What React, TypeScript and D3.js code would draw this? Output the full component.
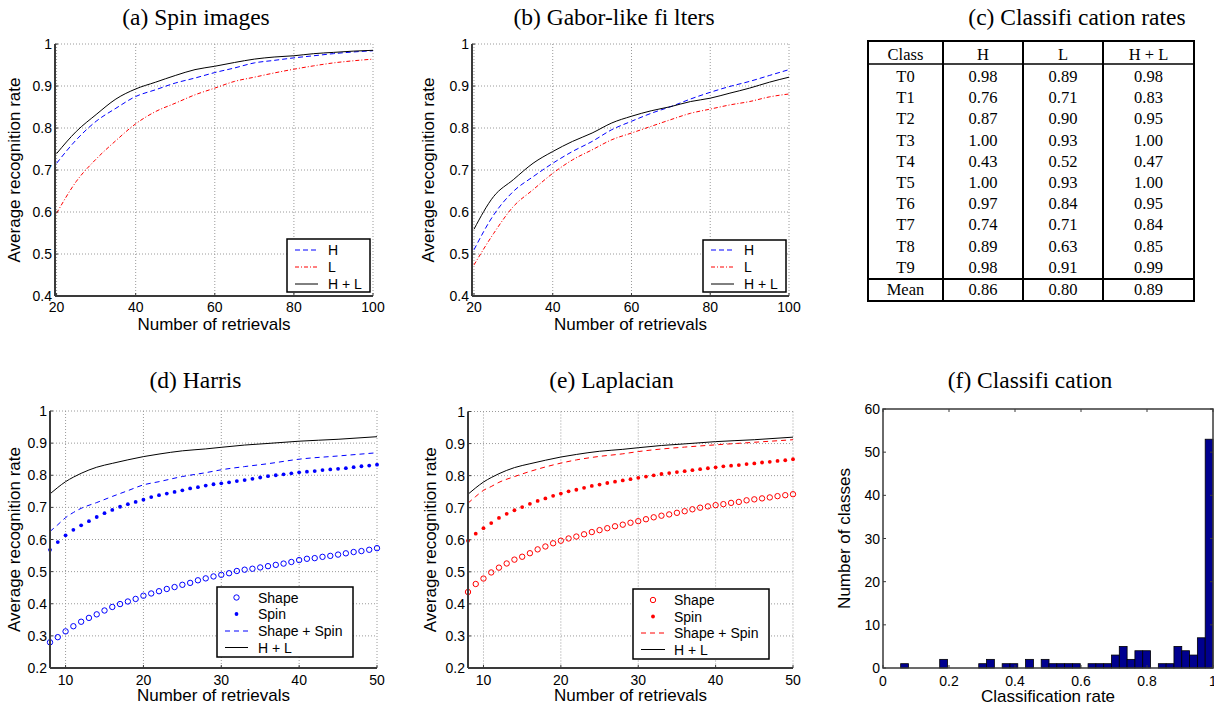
import React from 'react';
import * as d3 from 'd3';

// ---------- DATA ----------
// (a) Spin images & (b) Gabor-like filters: number of retrievals
const retrievalsAB = [20, 25, 30, 35, 40, 45, 50, 55, 60, 65, 70, 75, 80, 85, 90, 95, 100];
const spinH = [0.716, 0.772, 0.816, 0.847, 0.875, 0.891, 0.907, 0.919, 0.932, 0.943, 0.955, 0.961, 0.967, 0.972, 0.977, 0.981, 0.984];
const spinL = [0.597, 0.673, 0.726, 0.77, 0.81, 0.839, 0.859, 0.879, 0.895, 0.911, 0.921, 0.931, 0.94, 0.948, 0.955, 0.96, 0.964];
const spinHL = [0.739, 0.792, 0.832, 0.869, 0.893, 0.909, 0.925, 0.939, 0.947, 0.956, 0.964, 0.969, 0.972, 0.977, 0.98, 0.983, 0.985];
const gaborH = [0.51, 0.593, 0.649, 0.684, 0.716, 0.744, 0.768, 0.796, 0.816, 0.835, 0.851, 0.869, 0.885, 0.899, 0.911, 0.925, 0.939];
const gaborL = [0.474, 0.549, 0.613, 0.653, 0.692, 0.724, 0.748, 0.772, 0.788, 0.804, 0.82, 0.835, 0.845, 0.855, 0.863, 0.874, 0.881];
const gaborHL = [0.559, 0.637, 0.677, 0.716, 0.744, 0.768, 0.788, 0.812, 0.828, 0.841, 0.851, 0.863, 0.871, 0.883, 0.895, 0.909, 0.921];

// (d) Harris & (e) Laplacian: marker series at every retrieval count
const retrievalsDE = [8, 9, 10, 11, 12, 13, 14, 15, 16, 17, 18, 19, 20, 21, 22, 23, 24, 25, 26, 27, 28, 29, 30, 31, 32, 33, 34, 35, 36, 37, 38, 39, 40, 41, 42, 43, 44, 45, 46, 47, 48, 49, 50];
const harrisShape = [0.28, 0.296, 0.314, 0.33, 0.344, 0.356, 0.367, 0.379, 0.39, 0.399, 0.407, 0.415, 0.425, 0.432, 0.439, 0.446, 0.452, 0.459, 0.465, 0.473, 0.479, 0.485, 0.49, 0.495, 0.502, 0.506, 0.509, 0.513, 0.517, 0.521, 0.525, 0.53, 0.536, 0.54, 0.542, 0.546, 0.549, 0.553, 0.557, 0.561, 0.564, 0.568, 0.573];
const harrisSpin = [0.568, 0.592, 0.613, 0.63, 0.644, 0.657, 0.67, 0.682, 0.692, 0.702, 0.71, 0.717, 0.724, 0.732, 0.738, 0.743, 0.748, 0.753, 0.759, 0.763, 0.768, 0.772, 0.775, 0.778, 0.782, 0.785, 0.789, 0.793, 0.797, 0.8, 0.803, 0.806, 0.809, 0.811, 0.813, 0.816, 0.818, 0.82, 0.822, 0.825, 0.828, 0.83, 0.833];
const lapShape = [0.437, 0.462, 0.479, 0.498, 0.513, 0.526, 0.538, 0.547, 0.558, 0.57, 0.579, 0.589, 0.597, 0.604, 0.61, 0.617, 0.624, 0.63, 0.636, 0.642, 0.647, 0.653, 0.658, 0.664, 0.67, 0.675, 0.679, 0.684, 0.689, 0.695, 0.7, 0.704, 0.708, 0.711, 0.715, 0.718, 0.723, 0.726, 0.729, 0.732, 0.736, 0.739, 0.742];
const lapSpin = [0.597, 0.619, 0.636, 0.652, 0.668, 0.681, 0.692, 0.702, 0.712, 0.721, 0.729, 0.737, 0.744, 0.751, 0.756, 0.762, 0.768, 0.772, 0.777, 0.781, 0.785, 0.789, 0.793, 0.797, 0.801, 0.805, 0.808, 0.811, 0.814, 0.817, 0.82, 0.823, 0.826, 0.829, 0.831, 0.833, 0.836, 0.838, 0.841, 0.843, 0.846, 0.848, 0.851];
// line series in (d)/(e)
const retrievalsLines = [8, 9, 10, 11, 12, 14, 16, 18, 20, 22, 25, 28, 30, 33, 36, 40, 45, 50];
const harrisShapeSpin = [0.625, 0.646, 0.668, 0.684, 0.697, 0.715, 0.734, 0.752, 0.77, 0.78, 0.796, 0.808, 0.817, 0.827, 0.836, 0.85, 0.86, 0.87];
const lapShapeSpin = [0.714, 0.735, 0.754, 0.766, 0.779, 0.797, 0.813, 0.827, 0.839, 0.849, 0.86, 0.868, 0.875, 0.883, 0.889, 0.896, 0.904, 0.912];
const combinedHL = [0.742, 0.762, 0.78, 0.794, 0.806, 0.825, 0.837, 0.848, 0.858, 0.866, 0.876, 0.882, 0.887, 0.894, 0.899, 0.906, 0.912, 0.92];

// (c) Classification rates table
const tableHeader = ['Class', 'H', 'L', 'H + L'];
const tableClasses = ['T0', 'T1', 'T2', 'T3', 'T4', 'T5', 'T6', 'T7', 'T8', 'T9'];
const rateH = ['0.98', '0.76', '0.87', '1.00', '0.43', '1.00', '0.97', '0.74', '0.89', '0.98'];
const rateL = ['0.89', '0.71', '0.90', '0.93', '0.52', '0.93', '0.84', '0.71', '0.63', '0.91'];
const rateHL = ['0.98', '0.83', '0.95', '1.00', '0.47', '1.00', '0.95', '0.84', '0.85', '0.99'];
const meanRow = ['Mean', '0.86', '0.80', '0.89'];

// (f) Classification histogram: 40 bins between min and max rate
const histMin = 0.0535;
const histMax = 1.0;
const histCounts = [1, 0, 0, 0, 0, 2, 0, 0, 0, 0, 1, 2, 0, 1, 1, 0, 2, 0, 2, 1, 1, 1, 1, 0, 1, 1, 1, 3, 5, 2, 4, 4, 0, 1, 1, 5, 4, 3, 7, 53];

// ticks
const ticksYab = [0.4, 0.5, 0.6, 0.7, 0.8, 0.9, 1];
const ticksXab = [20, 40, 60, 80, 100];
const ticksYde = [0.2, 0.3, 0.4, 0.5, 0.6, 0.7, 0.8, 0.9, 1];
const ticksXde = [10, 20, 30, 40, 50];
const ticksYf = [0, 10, 20, 30, 40, 50, 60];
const ticksXf = [0, 0.2, 0.4, 0.6, 0.8, 1];

// ---------- STYLE ----------
const SANS = '"Liberation Sans", Arial, Helvetica, sans-serif';
const SERIF = '"Liberation Serif", "Times New Roman", Times, serif';
const BLUE = '#0000ff';
const RED = '#ff0000';
const AXIS = '#3a3a3a';

type Series = {
  xs: number[];
  ys: number[];
  kind: 'line' | 'open' | 'dot';
  color: string;
  dash?: string;
  label: string;
};

type Box = { l: number; r: number; t: number; b: number };

type LegendSpec = {
  box: Box;
  rows: number[];
  sampleX: [number, number];
  textX: number;
};

function fmt(v: number) {
  return String(+v.toFixed(2));
}

function Marker({ kind, cx, cy, color }: { kind: string; cx: number; cy: number; color: string }) {
  if (kind === 'open') return <circle cx={cx} cy={cy} r={2.7} fill="none" stroke={color} strokeWidth={1} />;
  return <circle cx={cx} cy={cy} r={1.9} fill={color} />;
}

function LinePanel(props: {
  box: Box;
  xDomain: [number, number];
  yDomain: [number, number];
  xTicks: number[];
  yTicks: number[];
  series: Series[];
  legend: LegendSpec;
  title: string;
  titleX: number;
  titleY: number;
  yLabelX: number;
  xLabelY: number;
  xTickY: number;
}) {
  const { box, xDomain, yDomain, xTicks, yTicks, series, legend, title, titleX, titleY, yLabelX, xLabelY, xTickY } = props;
  const x = d3.scaleLinear().domain(xDomain).range([box.l, box.r]);
  const y = d3.scaleLinear().domain(yDomain).range([box.b, box.t]);
  const lineGen = d3
    .line<[number, number]>()
    .x((d) => x(d[0]))
    .y((d) => y(d[1]))
    .curve(d3.curveMonotoneX);
  const midY = (box.t + box.b) / 2;
  return (
    <g>
      <text x={titleX} y={titleY} textAnchor="middle" fontFamily={SERIF} fontSize={23.5}>
        {title}
      </text>
      {/* grid */}
      {xTicks.map((t) => (
        <line key={'gx' + t} x1={x(t)} x2={x(t)} y1={box.t} y2={box.b} stroke="#9a9a9a" strokeWidth={1} strokeDasharray="1,2" />
      ))}
      {yTicks.map((t) => (
        <line key={'gy' + t} x1={box.l} x2={box.r} y1={y(t)} y2={y(t)} stroke="#9a9a9a" strokeWidth={1} strokeDasharray="1,2" />
      ))}
      {/* series */}
      {series.map((s, i) => {
        const pts = s.xs.map((v, j) => [v, s.ys[j]] as [number, number]);
        if (s.kind === 'line')
          return <path key={i} d={lineGen(pts) || ''} fill="none" stroke={s.color} strokeWidth={1} strokeDasharray={s.dash} />;
        return (
          <g key={i}>
            {pts.map((p, j) => (
              <Marker key={j} kind={s.kind} cx={x(p[0])} cy={y(p[1])} color={s.color} />
            ))}
          </g>
        );
      })}
      {/* axes */}
      <line x1={box.l} x2={box.l} y1={box.t} y2={box.b} stroke={AXIS} strokeWidth={2} />
      <line x1={box.l} x2={box.r} y1={box.b} y2={box.b} stroke={AXIS} strokeWidth={2} />
      {yTicks.map((t) => (
        <g key={'yt' + t}>
          <line x1={box.l} x2={box.l + 3} y1={y(t)} y2={y(t)} stroke={AXIS} />
          <text x={box.l - 3} y={y(t)} dy="0.36em" textAnchor="end" fontFamily={SANS} fontSize={14}>
            {fmt(t)}
          </text>
        </g>
      ))}
      {xTicks.map((t) => (
        <g key={'xt' + t}>
          <line x1={x(t)} x2={x(t)} y1={box.b} y2={box.b - 3} stroke={AXIS} />
          <text x={x(t)} y={xTickY} textAnchor="middle" fontFamily={SANS} fontSize={14}>
            {fmt(t)}
          </text>
        </g>
      ))}
      <text x={(box.l + box.r) / 2} y={xLabelY} textAnchor="middle" fontFamily={SANS} fontSize={17}>
        Number of retrievals
      </text>
      <text transform={`translate(${yLabelX},${midY}) rotate(-90)`} textAnchor="middle" fontFamily={SANS} fontSize={17}>
        Average recognition rate
      </text>
      {/* legend */}
      <rect
        x={legend.box.l}
        y={legend.box.t}
        width={legend.box.r - legend.box.l}
        height={legend.box.b - legend.box.t}
        fill="#fff"
        stroke="#000"
        strokeWidth={1.5}
      />
      {series.map((s, i) => {
        const ry = legend.rows[i];
        const mx = (legend.sampleX[0] + legend.sampleX[1]) / 2;
        return (
          <g key={'lg' + i}>
            {s.kind === 'line' ? (
              <line x1={legend.sampleX[0]} x2={legend.sampleX[1]} y1={ry} y2={ry} stroke={s.color} strokeWidth={1} strokeDasharray={s.dash} />
            ) : (
              <Marker kind={s.kind} cx={mx} cy={ry} color={s.color} />
            )}
            <text x={legend.textX} y={ry} dy="0.36em" fontFamily={SANS} fontSize={14}>
              {s.label}
            </text>
          </g>
        );
      })}
    </g>
  );
}

function TablePanel() {
  const colEdges = [868, 943, 1023, 1103, 1194];
  const top = 41;
  const headerLine = 64;
  const meanLine = 279;
  const bottom = 301;
  const rowY = d3.scaleLinear().domain([0, 9]).range([82, 272.7]);
  const cols = [tableClasses, rateH, rateL, rateHL];
  const cx = (i: number) => (colEdges[i] + colEdges[i + 1]) / 2;
  return (
    <g fontFamily={SERIF} fontSize={16.5}>
      <text x={1077} y={25} textAnchor="middle" fontSize={23.5}>
        (c) Classifi cation rates
      </text>
      <rect x={colEdges[0]} y={top} width={colEdges[4] - colEdges[0]} height={bottom - top} fill="none" stroke="#000" strokeWidth={2} />
      {colEdges.slice(1, 4).map((e) => (
        <line key={e} x1={e} x2={e} y1={top} y2={bottom} stroke="#000" strokeWidth={2} />
      ))}
      <line x1={colEdges[0]} x2={colEdges[4]} y1={headerLine} y2={headerLine} stroke="#000" strokeWidth={1.5} />
      <line x1={colEdges[0]} x2={colEdges[4]} y1={meanLine} y2={meanLine} stroke="#000" strokeWidth={2} />
      {tableHeader.map((h, i) => (
        <text key={h} x={cx(i)} y={60} textAnchor="middle">
          {h}
        </text>
      ))}
      {cols.map((col, i) =>
        col.map((v, j) => (
          <text key={i + '-' + j} x={cx(i)} y={rowY(j)} textAnchor="middle">
            {v}
          </text>
        ))
      )}
      {meanRow.map((m, i) => (
        <text key={'m' + i} x={cx(i)} y={295} textAnchor="middle">
          {m}
        </text>
      ))}
    </g>
  );
}

function HistPanel() {
  const box: Box = { l: 883, r: 1213, t: 409, b: 668 };
  const x = d3.scaleLinear().domain([0, 1]).range([box.l, box.r]);
  const y = d3.scaleLinear().domain([0, 60]).range([box.b, box.t]);
  const w = (histMax - histMin) / histCounts.length;
  return (
    <g>
      <text x={1030} y={388} textAnchor="middle" fontFamily={SERIF} fontSize={23.5}>
        (f) Classifi cation
      </text>
      {histCounts.map((c, i) => {
        const x0 = x(histMin + i * w);
        const x1 = x(histMin + (i + 1) * w);
        return <rect key={i} x={x0} y={y(c)} width={x1 - x0} height={y(0) - y(c)} fill="#00008f" stroke="#000" strokeWidth={0.8} />;
      })}
      <rect x={box.l} y={box.t} width={box.r - box.l} height={box.b - box.t} fill="none" stroke={AXIS} strokeWidth={1.5} />
      {ticksYf.map((t) => (
        <g key={'fy' + t}>
          <line x1={box.l} x2={box.l + 3} y1={y(t)} y2={y(t)} stroke={AXIS} />
          <line x1={box.r} x2={box.r - 3} y1={y(t)} y2={y(t)} stroke={AXIS} />
          <text x={box.l - 3} y={y(t)} dy="0.36em" textAnchor="end" fontFamily={SANS} fontSize={14}>
            {t}
          </text>
        </g>
      ))}
      {ticksXf.map((t) => (
        <g key={'fx' + t}>
          <line x1={x(t)} x2={x(t)} y1={box.t} y2={box.t + 3} stroke={AXIS} />
          <line x1={x(t)} x2={x(t)} y1={box.b} y2={box.b - 3} stroke={AXIS} />
          <text x={x(t)} y={686} textAnchor="middle" fontFamily={SANS} fontSize={14}>
            {fmt(t)}
          </text>
        </g>
      ))}
      <text x={(box.l + box.r) / 2} y={701.5} textAnchor="middle" fontFamily={SANS} fontSize={17}>
        Classification rate
      </text>
      <text transform={`translate(850,${(box.t + box.b) / 2}) rotate(-90)`} textAnchor="middle" fontFamily={SANS} fontSize={17}>
        Number of classes
      </text>
    </g>
  );
}

export default function App() {
  const dashH = '5,3';
  const dashL = '4,2,1,2';
  return (
    <svg width={1214} height={707} style={{ position: 'absolute', left: 0, top: 0, background: '#fff' }}>
      <rect x={0} y={0} width={1214} height={707} fill="#fff" />
      <LinePanel
        box={{ l: 55, r: 373, t: 44, b: 296 }}
        xDomain={[19.6, 100]}
        yDomain={[0.4, 1]}
        xTicks={ticksXab}
        yTicks={ticksYab}
        title="(a) Spin images"
        titleX={196}
        titleY={25}
        yLabelX={19.5}
        xLabelY={330}
        xTickY={312}
        series={[
          { xs: retrievalsAB, ys: spinH, kind: 'line', color: BLUE, dash: dashH, label: 'H' },
          { xs: retrievalsAB, ys: spinL, kind: 'line', color: RED, dash: dashL, label: 'L' },
          { xs: retrievalsAB, ys: spinHL, kind: 'line', color: '#000', label: 'H + L' },
        ]}
        legend={{ box: { l: 287, r: 370, t: 239, b: 292 }, rows: [250, 267, 284], sampleX: [295, 318], textX: 328 }}
      />
      <LinePanel
        box={{ l: 472, r: 789, t: 44, b: 296 }}
        xDomain={[19.5, 100]}
        yDomain={[0.4, 1]}
        xTicks={ticksXab}
        yTicks={ticksYab}
        title="(b) Gabor-like fi lters"
        titleX={614}
        titleY={25}
        yLabelX={433.5}
        xLabelY={330}
        xTickY={312}
        series={[
          { xs: retrievalsAB, ys: gaborH, kind: 'line', color: BLUE, dash: dashH, label: 'H' },
          { xs: retrievalsAB, ys: gaborL, kind: 'line', color: RED, dash: dashL, label: 'L' },
          { xs: retrievalsAB, ys: gaborHL, kind: 'line', color: '#000', label: 'H + L' },
        ]}
        legend={{ box: { l: 703, r: 786, t: 240, b: 292 }, rows: [250, 267, 284], sampleX: [711, 734], textX: 744 }}
      />
      <TablePanel />
      <LinePanel
        box={{ l: 50, r: 377, t: 411, b: 668 }}
        xDomain={[8, 50]}
        yDomain={[0.2, 1]}
        xTicks={ticksXde}
        yTicks={ticksYde}
        title="(d) Harris"
        titleX={195.5}
        titleY={388}
        yLabelX={19.5}
        xLabelY={700.5}
        xTickY={685}
        series={[
          { xs: retrievalsDE, ys: harrisShape, kind: 'open', color: BLUE, label: 'Shape' },
          { xs: retrievalsDE, ys: harrisSpin, kind: 'dot', color: BLUE, label: 'Spin' },
          { xs: retrievalsLines, ys: harrisShapeSpin, kind: 'line', color: BLUE, dash: '5,4', label: 'Shape + Spin' },
          { xs: retrievalsLines, ys: combinedHL, kind: 'line', color: '#000', label: 'H + L' },
        ]}
        legend={{ box: { l: 217, r: 353, t: 587, b: 657 }, rows: [597.5, 614, 631, 647.5], sampleX: [225, 248], textX: 258 }}
      />
      <LinePanel
        box={{ l: 468, r: 793, t: 411.5, b: 668 }}
        xDomain={[8, 50]}
        yDomain={[0.2, 1]}
        xTicks={ticksXde}
        yTicks={ticksYde}
        title="(e) Laplacian"
        titleX={611.5}
        titleY={388}
        yLabelX={435.5}
        xLabelY={700.5}
        xTickY={685}
        series={[
          { xs: retrievalsDE, ys: lapShape, kind: 'open', color: RED, label: 'Shape' },
          { xs: retrievalsDE, ys: lapSpin, kind: 'dot', color: RED, label: 'Spin' },
          { xs: retrievalsLines, ys: lapShapeSpin, kind: 'line', color: RED, dash: '5,4', label: 'Shape + Spin' },
          { xs: retrievalsLines, ys: combinedHL, kind: 'line', color: '#000', label: 'H + L' },
        ]}
        legend={{ box: { l: 633, r: 769, t: 589, b: 659 }, rows: [600, 616.5, 633, 649.5], sampleX: [641, 665], textX: 674 }}
      />
      <HistPanel />
    </svg>
  );
}
